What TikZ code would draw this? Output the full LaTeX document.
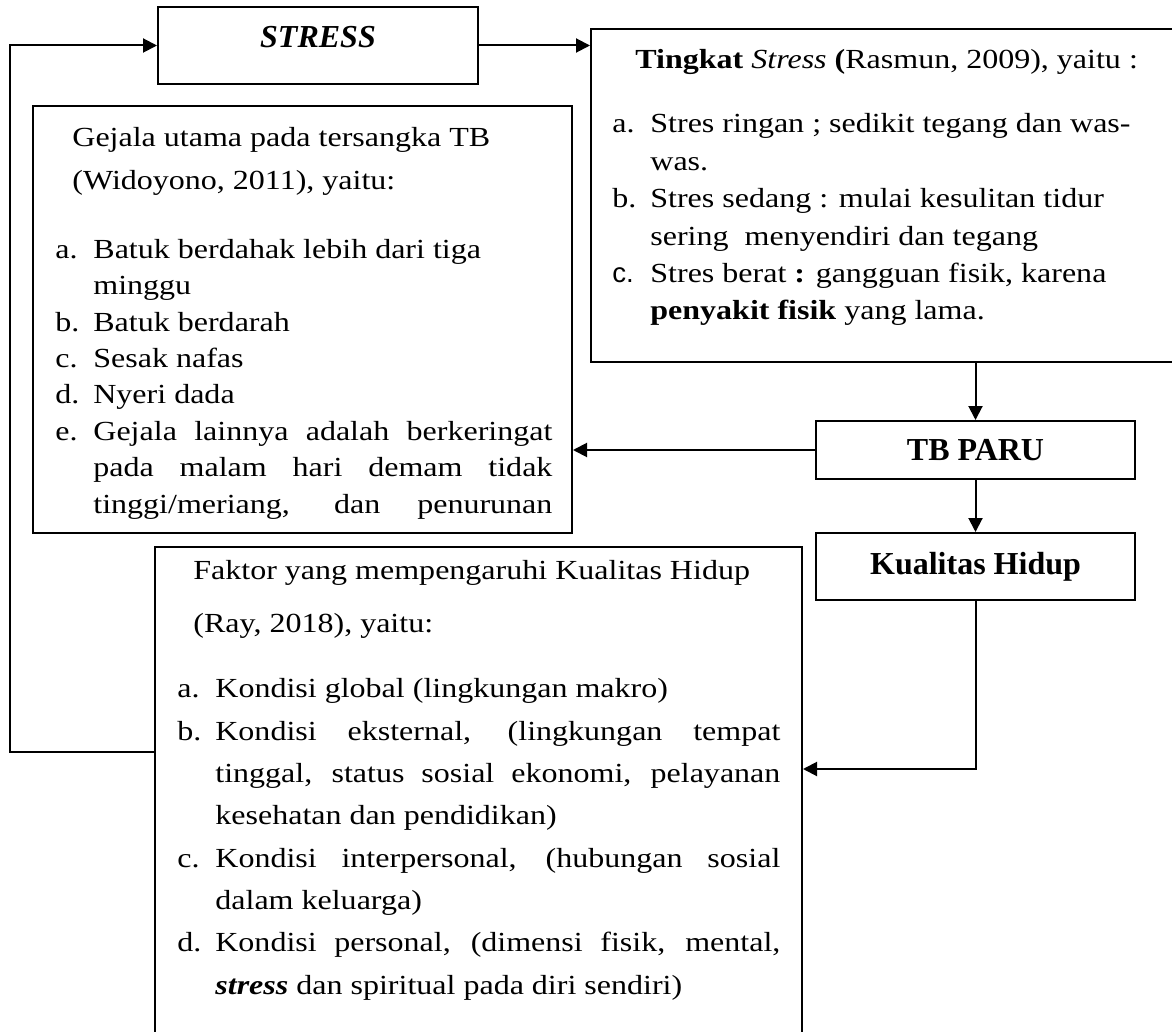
\documentclass[tikz,border=0pt]{standalone}
\usepackage{fontspec}
\setmainfont{Liberation Serif}
\newfontfamily\isi{Liberation Serif}[FakeStretch=1.16]
\newfontfamily\sanshuruf{Liberation Sans}
\usetikzlibrary{arrows.meta}

\newcommand{\butir}[1]{\makebox[19pt][l]{#1}}
\newcommand{\lanjut}{\hspace*{19pt}}

\tikzset{
    kotak/.style={draw, line width=1pt, inner sep=0pt},
    panah/.style={line width=1pt, -{Triangle[length=7pt,width=7pt]}},
    judul/.style={font=\fontsize{16}{19}\selectfont\bfseries},
    isiteks/.style={anchor=base west, inner sep=0pt, align=left, font=\isi\fontsize{13.8}{#1}\selectfont}
}

\begin{document}
\begin{tikzpicture}[x=0.5pt, y=-0.5pt]
    \useasboundingbox (0,0) rectangle (1172,1032);

    % kotak
    \node[kotak, judul, minimum width=160pt, minimum height=38.5pt, text height=11pt, text depth=8.5pt] (stress) at (318,45.5) {\textit{STRESS}};
    \node[kotak, minimum width=292.5pt, minimum height=166.5pt] (tingkat) at (883.5,195.5) {};
    \node[kotak, minimum width=269.5pt, minimum height=213.5pt] (gejala) at (302.5,319.5) {};
    \node[kotak, judul, minimum width=159.5pt, minimum height=29pt] (tbparu) at (975.5,450) {TB PARU};
    \node[kotak, judul, minimum width=159.5pt, minimum height=33.5pt] (kualitas) at (975.5,566.5) {Kualitas Hidup};
    \node[kotak, minimum width=323.5pt, minimum height=246.5pt] (faktor) at (478.5,793.5) {};

    % teks tingkat stress (base = baris terakhir)
    \node[isiteks=18pt] (tingkatJudul) at (635,69) {\textbf{Tingkat} \textit{Stress} \textbf{(}Rasmun, 2009), yaitu :};
    \node[isiteks=18.7pt] (tingkatIsi) at (612,320) {%
        \butir{a.}Stres ringan ; sedikit tegang dan was-\\
        \lanjut was.\\
        \butir{b.}Stres sedang : mulai kesulitan tidur\\
        \lanjut sering\ \ menyendiri dan tegang\\
        \butir{{\sanshuruf c.}}Stres berat \textbf{:} gangguan fisik, karena\\
        \lanjut\textbf{penyakit fisik} yang lama.};

    % teks gejala
    \node[isiteks=21.5pt] (gejalaJudul) at (72,190) {Gejala utama pada tersangka TB\\(Widoyono, 2011), yaitu:};
    \node[isiteks=18.2pt] (gejalaIsi) at (55,513) {%
        \butir{a.}Batuk berdahak lebih dari tiga\\
        \lanjut minggu\\
        \butir{b.}Batuk berdarah\\
        \butir{c.}Sesak nafas\\
        \butir{d.}Nyeri dada\\
        \butir{e.}\makebox[229.5pt][s]{Gejala lainnya adalah berkeringat}\\
        \lanjut\makebox[229.5pt][s]{pada malam hari demam tidak}\\
        \lanjut\makebox[229.5pt][s]{tinggi/meriang, dan penurunan}};

    % teks faktor
    \node[isiteks=26.5pt] (faktorJudul) at (193,632) {Faktor yang mempengaruhi Kualitas Hidup\\(Ray, 2018), yaitu:};
    \node[isiteks=21.15pt] (faktorIsi) at (177,994) {%
        \butir{a.}Kondisi global (lingkungan makro)\\
        \butir{b.}\makebox[282.5pt][s]{Kondisi eksternal, (lingkungan tempat}\\
        \lanjut\makebox[282.5pt][s]{tinggal, status sosial ekonomi, pelayanan}\\
        \lanjut kesehatan dan pendidikan)\\
        \butir{c.}\makebox[282.5pt][s]{Kondisi interpersonal, (hubungan sosial}\\
        \lanjut dalam keluarga)\\
        \butir{d.}\makebox[282.5pt][s]{Kondisi personal, (dimensi fisik, mental,}\\
        \lanjut\textbf{\textit{stress}} dan spiritual pada diri sendiri)};

    % panah
    \coordinate (tinggiF) at (0,769);
    \coordinate (tinggiL) at (0,752);
    \coordinate (pojok) at (9.5,752);
    \draw[panah] (stress.east) -- (stress.east -| tingkat.west);
    \draw[panah] (tingkat.south -| tbparu.north) -- (tbparu.north);
    \draw[panah] (tbparu.west) -- (tbparu.west -| gejala.east);
    \draw[panah] (tbparu.south) -- (kualitas.north);
    \draw[panah] (kualitas.south) |- (faktor.east |- tinggiF);
    \draw[panah] (faktor.west |- tinggiL) -- (pojok) |- (stress.west);
\end{tikzpicture}
\end{document}
